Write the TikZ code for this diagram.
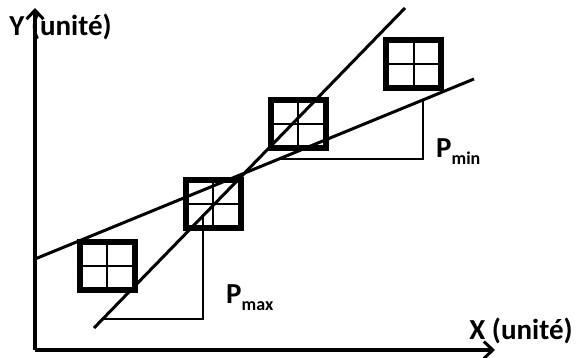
\documentclass[tikz,border=0pt]{standalone}
\usepackage{fontspec}
\setmainfont{Carlito}
\usetikzlibrary{arrows.meta}
\tikzset{
  cell/.style={draw, rectangle, line width=6pt, minimum width=55pt, minimum height=48pt, inner sep=0pt},
  axis/.style={line width=3.5pt, -{Straight Barb[length=9pt,width=17pt,line width=3pt]}},
  fitline/.style={line width=3pt},
  slope/.style={line width=2.5pt},
  axlabel/.style={font=\fontsize{29}{31}\selectfont\bfseries, inner sep=0pt},
  plabel/.style={font=\fontsize{29}{31}\selectfont\bfseries, inner sep=0pt, anchor=base west}
}
\begin{document}
\begin{tikzpicture}[x=1pt, y=-1pt]
\useasboundingbox (0,0) rectangle (576,358);
% labels
\node[axlabel] (ylab) at (60.5,27) {Y (unité)};
\node[axlabel] (xlab) at (521,331) {X (unité)};
% axes
\coordinate (o) at (35,350);
\coordinate (ytip) at (35,8);
\coordinate (xtip) at (495,350);
\draw[axis] (o) -- (ytip);
\draw[axis] (o) -- (xtip);
% squares
\node[cell] (c1) at (107,266.5) {};
\node[cell] (c2) at (213,204.5) {};
\node[cell] (c3) at (298,124.5) {};
\node[cell] (c4) at (413.5,64) {};
\foreach \c in {c1,c2,c3,c4} {
  \draw[line width=2pt] (\c.north) -- (\c.south);
  \draw[line width=2pt] (\c.west) -- (\c.east);
}
% lines
\coordinate (steepA) at (94,328);
\coordinate (steepB) at (405,8);
\coordinate (flatA) at (35,259);
\coordinate (flatB) at (474,79);
\draw[fitline] (steepA) -- (steepB);
\draw[fitline] (flatA) -- (flatB);
% P max
\coordinate (pmaxL) at (104,319);
\coordinate (pmaxC) at (203,319);
\coordinate (pmaxT) at (203,216);
\draw[slope] (pmaxL) -- (pmaxC) -- (pmaxT);
\node[plabel] (pmax) at (226,304) {P\raisebox{-7pt}{\fontsize{18}{18}\selectfont max}};
% P min
\coordinate (pminL) at (279,159);
\coordinate (pminC) at (423,159);
\coordinate (pminT) at (423,100);
\draw[slope] (pminL) -- (pminC) -- (pminT);
\node[plabel] (pmin) at (436,158) {P\raisebox{-7pt}{\fontsize{18}{18}\selectfont min}};
\end{tikzpicture}
\end{document}
